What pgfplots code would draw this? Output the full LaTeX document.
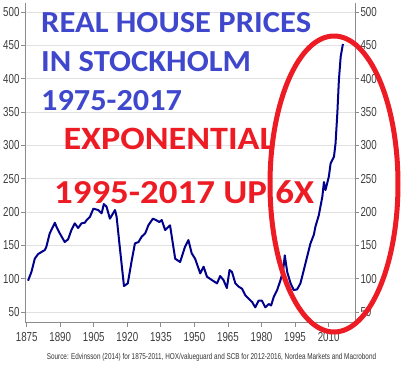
\documentclass[border=0pt]{standalone}
\usepackage{pgfplots}
\pgfplotsset{compat=1.18}
\usepackage{fontspec}
\setmainfont{Carlito}
\newfontfamily\narrow[FakeStretch=0.75]{Liberation Sans}
\definecolor{titleblue}{RGB}{63,72,204}
\definecolor{titlered}{RGB}{237,28,36}
\definecolor{navy}{RGB}{0,0,139}
\definecolor{axgray}{RGB}{140,140,140}
\definecolor{labgray}{RGB}{60,60,60}
\definecolor{gridgray}{RGB}{225,225,225}
\pgfplotstableread{
year value
1875.6 97
1877.1 110
1878.6 130
1880.1 137
1881.6 140
1883.1 143
1883.8 148
1885.3 168
1887.6 184
1888.3 178
1889.8 168
1892.0 155
1893.5 159
1895.0 173
1896.5 183
1898.0 176
1899.5 183
1901.0 184
1901.8 188
1903.3 193
1904.8 205
1907.0 203
1908.5 198
1909.5 212
1910.7 208
1912.2 190
1914.5 203
1915.2 193
1916.7 145
1918.5 89
1920.2 93
1922.0 128
1923.4 153
1925.0 155
1926.4 163
1928.0 168
1929.4 180
1931.4 190
1932.8 188
1934.3 185
1935.4 188
1936.9 173
1939.1 180
1941.4 130
1943.6 125
1945.8 148
1947.3 158
1948.8 138
1950.3 130
1952.6 108
1954.1 118
1955.6 103
1957.8 98
1960.1 93
1961.5 104
1963.0 98
1964.5 86
1965.7 113
1966.8 110
1968.3 93
1969.8 88
1971.3 85
1972.8 75
1974.3 70
1975.8 65
1977.2 57
1978.7 67
1980.2 67
1981.7 57
1983.2 62
1984.3 60
1985.5 73
1987.0 83
1988.5 98
1989.7 113
1990.4 135
1991.5 110
1993.0 93
1994.4 83
1995.9 84
1997.4 93
1998.9 113
2000.4 133
2001.9 153
2003.4 166
2004.1 178
2005.6 195
2007.2 223
2007.9 245
2008.6 233
2010.1 253
2010.9 273
2012.4 283
2013.1 303
2013.9 348
2014.6 398
2015.4 433
2016.4 452
}\prices
\begin{document}
\begin{tikzpicture}
\pgfplotsset{
  common/.style={
    at={(25pt,-322.7pt)}, anchor=south west,
    scale only axis, width=330pt, height=319.7pt,
    xmin=1874.24, xmax=2021.8, ymin=34, ymax=513.5,
    ytick={50,100,...,500},
    tick align=outside, major tick length=4pt,
    axis line style={axgray, line width=0.8pt, -},
    tick style={axgray, line width=0.8pt},
    /pgf/number format/assume math mode=true,
    /pgf/number format/set thousands separator={},
    yticklabel style={font=\narrow\fontsize{13}{13}\selectfont, text=labgray},
  }
}
\begin{axis}[common,
    axis x line*=bottom, axis y line*=left,
    xtick={1875,1890,...,2010},
    xticklabel style={font=\narrow\fontsize{13}{13}\selectfont, text=labgray, yshift=-2pt},
    yticklabel style={xshift=2pt},
    ymajorgrids, grid style={gridgray, line width=0.9pt},
]
\addplot[navy, line width=2pt, line join=round] table[x=year, y=value] {\prices};
\end{axis}
\begin{axis}[common,
    axis y line*=right, axis x line=none,
    yticklabel style={xshift=-2pt},
]
\end{axis}
\draw[titlered, line width=5pt] (334pt,-184pt) ellipse [x radius=64pt, y radius=148pt];
\node[anchor=base west, inner sep=0, text=titleblue, font=\bfseries\fontsize{30.6}{30.6}\selectfont] at (41pt,-32.3pt) {\scalebox{1.065}[1]{REAL HOUSE PRICES}};
\node[anchor=base west, inner sep=0, text=titleblue, font=\bfseries\fontsize{30.6}{30.6}\selectfont] at (41pt,-71.7pt) {\scalebox{1.065}[1]{IN STOCKHOLM}};
\node[anchor=base west, inner sep=0, text=titleblue, font=\bfseries\fontsize{30.6}{30.6}\selectfont] at (41pt,-110.7pt) {\scalebox{1.055}[1]{1975-2017}};
\node[anchor=base west, inner sep=0, text=titlered, font=\bfseries\fontsize{32.6}{32.6}\selectfont] at (63.3pt,-149.3pt) {\scalebox{1.11}[1]{EXPONENTIAL}};
\node[anchor=base west, inner sep=0, text=titlered, font=\bfseries\fontsize{33.5}{33.5}\selectfont] at (54pt,-203.3pt) {\scalebox{1.10}[1]{1995-2017 UP 6X}};
\node[anchor=center, inner sep=0, text=black!80, font=\narrow\fontsize{8.5}{8.5}\selectfont] at (211.5pt,-357pt) {Source: Edvinsson (2014) for 1875-2011, HOX/valueguard and SCB for 2012-2016, Nordea Markets and Macrobond};
\pgfresetboundingbox
\path[use as bounding box] (0,0) rectangle (408pt,-368pt);
\end{tikzpicture}
\end{document}
